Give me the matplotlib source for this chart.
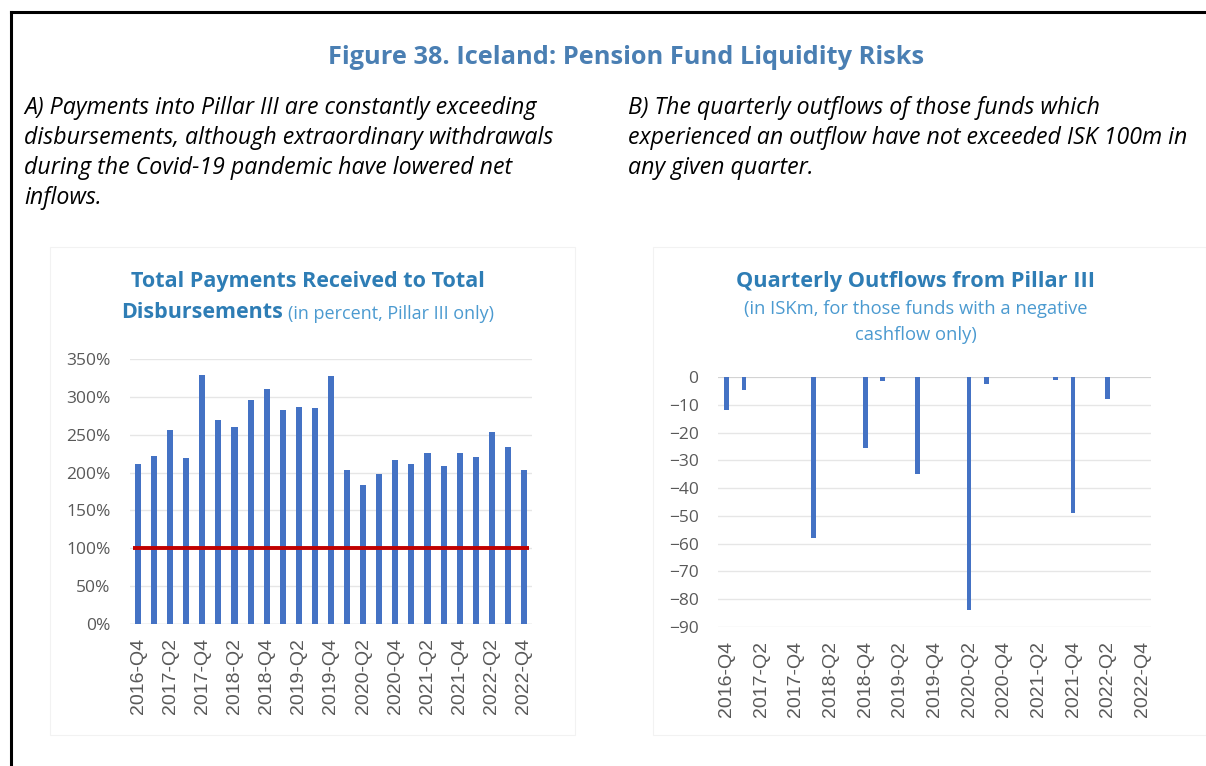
import matplotlib
matplotlib.use("Agg")
import matplotlib.pyplot as plt
from matplotlib.lines import Line2D
from matplotlib.patches import Rectangle

W, H = 1206, 766

quarters = [f"{y}-Q{q}" for y, q in
            [(2016, 4)] + [(y, q) for y in range(2017, 2023) for q in (1, 2, 3, 4)]]

# Pillar III: payments received / disbursements, percent
payment_ratio = [211, 222, 256, 219, 329, 269, 260, 296, 311, 283, 287, 285, 328,
                 203, 184, 198, 217, 211, 226, 209, 226, 221, 253, 234, 204]
threshold = 100

# quarterly outflows, ISKm (funds with negative cashflow only)
outflows = [-12, -4.5, 0, 0, 0, -58, 0, 0, -25.5, -1.3, 0, -35, 0, 0, -84,
            -2.6, 0, 0, 0, -1.0, -49, 0, -8, 0, 0]

bar_color = "#4472C4"
tick_gray = "#595959"
grid_gray = "#e6e6e6"
title_blue = "#2E7DB5"
sub_blue = "#4B9AD0"

plt.rcParams["font.family"] = ["Open Sans", "DejaVu Sans"]

fig = plt.figure(figsize=(W / 100, H / 100), dpi=100)


def fx(x):
    return x / W


def fy(y):
    return 1 - y / H


def px_axes(x0, y0, x1, y1):
    return fig.add_axes([fx(x0), fy(y1), (x1 - x0) / W, (y1 - y0) / H])


# page frame
fig.add_artist(Line2D([fx(11), fx(11)], [fy(12), 0], color="black", lw=2.2))
fig.add_artist(Line2D([fx(11), 1], [fy(12), fy(12)], color="black", lw=2.2))

# chart panel outlines
fig.add_artist(Rectangle((fx(50), fy(735)), (575 - 50) / W, (735 - 247) / H,
                         fill=False, ec="#f2f2f2", lw=0.8))
fig.add_artist(Rectangle((fx(653), fy(735)), (1206 - 653) / W, (735 - 247) / H,
                         fill=False, ec="#f2f2f2", lw=0.8))

fig.text(fx(626), fy(57), "Figure 38. Iceland: Pension Fund Liquidity Risks",
         ha="center", va="center", fontsize=18.3, fontweight="bold", color="#4A7FB3")

left_note = ["A) Payments into Pillar III are constantly exceeding",
             "disbursements, although extraordinary withdrawals",
             "during the Covid-19 pandemic have lowered net",
             "inflows."]
right_note = ["B) The quarterly outflows of those funds which",
              "experienced an outflow have not exceeded ISK 100m in",
              "any given quarter."]
for i, line in enumerate(left_note):
    fig.text(fx(24), fy(108 + 30 * i), line, ha="left", va="center",
             fontsize=16.7, style="italic", color="black")
for i, line in enumerate(right_note):
    fig.text(fx(628), fy(108 + 30 * i), line, ha="left", va="center",
             fontsize=16.7, style="italic", color="black")

# chart titles
fig.text(fx(308), fy(282), "Total Payments Received to Total", ha="center",
         va="center", fontsize=15.5, fontweight="bold", color=title_blue)
fig.text(fx(283), fy(312), "Disbursements", ha="right", va="center",
         fontsize=15.5, fontweight="bold", color=title_blue)
fig.text(fx(288), fy(314), "(in percent, Pillar III only)", ha="left",
         va="center", fontsize=13, color=sub_blue)

fig.text(fx(916), fy(282), "Quarterly Outflows from Pillar III", ha="center",
         va="center", fontsize=15.7, fontweight="bold", color=title_blue)
fig.text(fx(916), fy(309), "(in ISKm, for those funds with a negative",
         ha="center", va="center", fontsize=13.2, color=sub_blue)
fig.text(fx(916), fy(335), "cashflow only)",
         ha="center", va="center", fontsize=13.2, color=sub_blue)

x = list(range(len(quarters)))


def style_axes(ax):
    for s in ax.spines.values():
        s.set_visible(False)
    ax.yaxis.grid(True, color=grid_gray, lw=1)
    ax.set_axisbelow(True)
    ax.tick_params(axis="both", length=0)
    ax.tick_params(axis="y", labelsize=12.5, labelcolor=tick_gray, pad=14)
    ax.set_xticks(x[::2])
    ax.set_xticklabels(quarters[::2], rotation=90, fontsize=14,
                       family=["Liberation Sans", "DejaVu Sans"], color=tick_gray)
    ax.tick_params(axis="x", pad=10)
    ax.set_xlim(-0.5, len(quarters) - 0.5)


# left: payments / disbursements
ax1 = px_axes(130, 359, 532, 624)
ax1.bar(x, payment_ratio, width=0.38, color=bar_color, zorder=2)
ax1.hlines(threshold, -0.3, len(quarters) - 0.7, color="#C00000", lw=2.8, zorder=3)
ax1.set_ylim(0, 350)
ax1.set_yticks(range(0, 351, 50))
ax1.set_yticklabels([f"{v}%" for v in range(0, 351, 50)])
style_axes(ax1)
ax1.axhline(0, color="#d9d9d9", lw=1, zorder=1)

# right: quarterly outflows
ax2 = px_axes(718, 377, 1151, 627)
ax2.bar(x, outflows, width=0.27, color=bar_color, zorder=2)
ax2.set_ylim(-90, 0)
ax2.set_yticks(range(-90, 1, 10))
style_axes(ax2)
ax2.axhline(0, color="#d0d0d0", lw=1.2, zorder=1)

fig.savefig("out.png", dpi=100)
